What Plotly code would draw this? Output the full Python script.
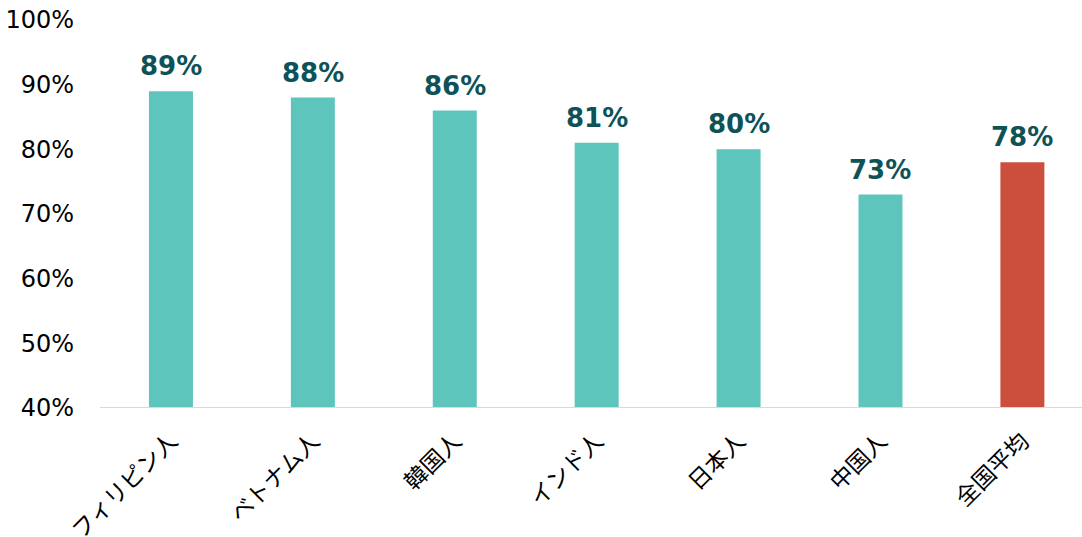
import plotly.graph_objects as go

categories = ["フィリピン人", "ベトナム人", "韓国人", "インド人", "日本人", "中国人", "全国平均"]
values = [89, 88, 86, 81, 80, 73, 78]
colors = ["#5EC5BD"] * 6 + ["#CC4E3C"]
tick_vals = [40, 50, 60, 70, 80, 90, 100]
tick_text = ["40%", "50%", "60%", "70%", "80%", "90%", "100%"]
labels = [f"{v}%" for v in values]

fig = go.Figure()
fig.add_trace(go.Bar(
    x=categories, y=values, marker=dict(color=colors, line=dict(width=0)),
    width=0.31, showlegend=False,
))
for c, v, t in zip(categories, values, labels):
    fig.add_annotation(x=c, y=v, text=f"<b>{t}</b>", showarrow=False,
                       yanchor="bottom", yshift=8,
                       font=dict(family="DejaVu Sans", size=26, color="#0D5257"))

fig.update_layout(
    width=1082, height=537,
    margin=dict(l=100, r=0, t=20, b=129, autoexpand=False),
    paper_bgcolor="white", plot_bgcolor="white",
    xaxis=dict(
        range=[-0.5, 6.42], tickangle=-45, automargin=False,
        tickfont=dict(family="Noto Sans CJK JP", size=23, color="#000000"),
        showgrid=False, showline=False, ticks="", ticklabelstandoff=14,
    ),
    yaxis=dict(
        range=[40, 100], tickvals=tick_vals, ticktext=tick_text, automargin=False,
        tickfont=dict(family="DejaVu Sans", size=24, color="#000000"),
        showgrid=False, zeroline=False, showline=False, ticks="", ticklabelstandoff=25,
    ),
)
fig.add_shape(type="line", xref="paper", yref="y", x0=0, x1=1, y0=40, y1=40,
              line=dict(color="#D9D9D9", width=2))
fig.write_html("out.html")
